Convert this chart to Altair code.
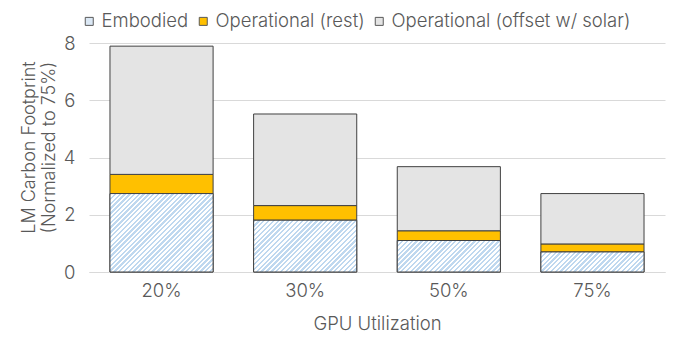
import math
import altair as alt
import pandas as pd

categories = ["20%", "30%", "50%", "75%"]
series = ["Embodied", "Operational (rest)", "Operational (offset w/ solar)"]
embodied = [2.74, 1.81, 1.10, 0.70]
operational_rest = [0.67, 0.51, 0.34, 0.28]
operational_offset = [4.48, 3.20, 2.24, 1.76]

FONT = "Inter"
FW = 300
FS = 18.5
TXT = "#595959"
W, H = 576, 229
YMAX = 8

rows = []
for i, c in enumerate(categories):
    for j, (s, vals) in enumerate(zip(series, [embodied, operational_rest, operational_offset])):
        rows.append({"cat": c, "series": s, "value": vals[i], "ord": j})
df = pd.DataFrame(rows)

xscale = alt.Scale(domain=categories, paddingInner=0.282, paddingOuter=0.146)
yscale = alt.Scale(domain=[0, YMAX], nice=False)

stacked = alt.Chart(df).mark_bar(stroke="#404040", strokeWidth=1).encode(
    x=alt.X("cat:N", scale=xscale, sort=categories,
            axis=alt.Axis(title="GPU Utilization", labelAngle=0, ticks=False,
                          labelPadding=9, titlePadding=15, domainColor="#d9d9d9",
                          grid=False)),
    y=alt.Y("value:Q", stack="zero", scale=yscale,
            axis=alt.Axis(title=["LM Carbon Footprint", "(Normalized to 75%)"],
                          values=[0, 2, 4, 6, 8], ticks=False, domain=False,
                          labelPadding=14, titlePadding=5, titleY=104,
                          titleLineHeight=20, titleFontSize=18,
                          gridColor="#d9d9d9", gridWidth=1)),
    color=alt.Color("series:N", scale=alt.Scale(domain=series,
                    range=["#dbe8f5", "#FFC000", "#E4E4E4"]),
                    legend=alt.Legend(title=None, orient="none", direction="horizontal",
                                      legendX=-9, legendY=-31, symbolType="square",
                                      symbolSize=64, symbolStrokeColor="#595959",
                                      symbolStrokeWidth=1, labelFontSize=FS,
                                      labelFontWeight=FW, labelLimit=500,
                                      labelColor=TXT, labelFont=FONT, columnPadding=5,
                                      symbolOffset=0, labelOffset=3, padding=0)),
    order=alt.Order("ord:Q"),
)

# hatch overlay for embodied
band_step = W / (len(categories) - 0.282 + 2 * 0.146)
bw = band_step * (1 - 0.282)
period = 3.4
hatch_layers = []
for c, v in zip(categories, embodied):
    h = v * H / YMAX
    k = (bw + h) / (bw ** 2 + h ** 2)
    L = (bw + h) / math.sqrt(2)
    n = max(1, round(L / period))
    stops = []
    for i in range(n):
        stops += [
            {"offset": i / n, "color": "#bfd8ef"},
            {"offset": (i + 0.5) / n, "color": "#bfd8ef"},
            {"offset": (i + 0.5) / n, "color": "#ffffff"},
            {"offset": (i + 1) / n, "color": "#ffffff"},
        ]
    grad = alt.LinearGradient(gradient="linear", stops=stops, x1=0, y1=0,
                              x2=bw * k, y2=h * k)
    sub = pd.DataFrame({"cat": [c], "value": [v]})
    hatch_layers.append(
        alt.Chart(sub).mark_bar(fill=grad, stroke="#404040", strokeWidth=1).encode(
            x=alt.X("cat:N", scale=xscale, sort=categories),
            y=alt.Y("value:Q", scale=yscale),
            y2=alt.datum(0),
        )
    )

chart = alt.layer(stacked, *hatch_layers).properties(
    width=W, height=H, autosize="none",
    padding={"left": 81, "top": 35, "right": 2, "bottom": 66},
).configure_axis(
    labelFont=FONT, titleFont=FONT, labelFontSize=FS, titleFontSize=FS,
    labelFontWeight=FW, titleFontWeight=FW,
    labelColor=TXT, titleColor=TXT,
).configure_view(stroke=None)

chart.save("out.html", embed_options={"renderer": "svg", "actions": False})
